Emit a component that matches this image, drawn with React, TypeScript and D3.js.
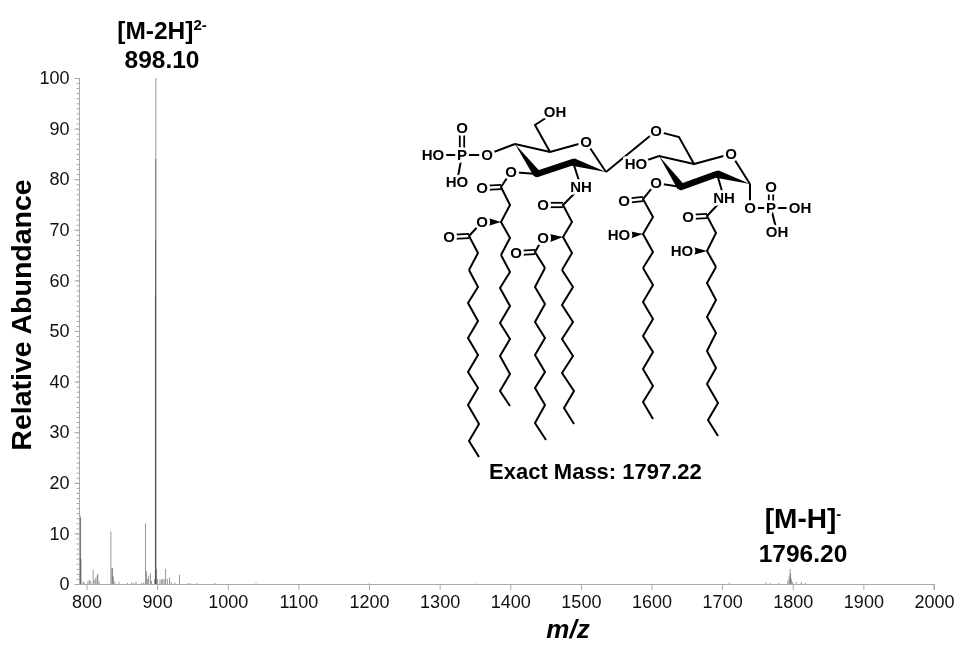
// MS spectrum with lipid A style structure drawn over the empty part of the plot
import { useEffect, useRef } from "react";
import * as d3 from "d3";

type Pt = [number, number];

const WIDTH = 963;
const HEIGHT = 646;
const FONT = "'Liberation Sans', Arial, sans-serif";

// spectrum
const peakMz = [
  791.2, 791.6, 792.2, 795, 797, 802, 804, 806, 809.5, 811, 813, 815, 816, 818,
  834.5, 836, 837, 838, 840, 846, 858, 864, 867, 870, 878, 881,
  883.5, 885, 886.5, 888, 890.5, 892, 896.5,
  897.6, 897.8, 898, 898.2, 899.2, 900.5, 904, 906, 908, 910, 912, 914.5, 917.5, 920, 925, 931.7,
  944, 947, 956, 982, 1040, 1200, 1350, 1710, 1762, 1768, 1780,
  1793, 1795, 1796.2, 1797, 1798, 1800, 1805, 1812, 1818,
];
const peakIntensity = [
  13.5, 13, 5, 0.5, 0.3, 0.5, 0.8, 0.6, 2.8, 0.8, 1.2, 1.7, 2, 0.5,
  10.4, 3.2, 3.1, 1.5, 0.5, 0.4, 0.2, 0.3, 0.2, 0.4, 0.2, 0.3,
  12, 2.5, 1, 1.6, 2.1, 0.6, 1,
  57, 68, 84, 100, 3, 1, 0.9, 0.9, 1, 1, 3, 1, 1.3, 0.4, 0.3, 1.8,
  0.2, 0.15, 0.2, 0.2, 0.15, 0.1, 0.1, 0.25, 0.3, 0.2, 0.2,
  0.8, 1.5, 3, 2, 1, 0.4, 0.4, 0.4, 0.2,
];

const xTicks = d3.range(800, 2001, 100);
const yTicks = d3.range(0, 101, 10);
const yMinorTicks = d3.range(0, 101, 1);

// skeleton of the structure, in page pixels
const plainBonds: Pt[][] = [
  // left sugar
  [[515, 144], [550, 152], [586, 142], [606, 172]],
  [[515, 144], [486, 155], [434, 155]],
  [[462, 155], [457, 182]],
  [[550, 152], [535, 125], [555, 112]],
  [[537, 174], [511, 172], [501, 187], [510, 205], [501, 222], [510, 238], [501, 255]],
  [[573, 162], [581, 187], [563, 205], [572, 222], [563, 237], [572, 253], [562, 270]],
  [[606, 172], [656, 131], [679, 137], [694, 164], [731, 154], [750, 184]],
  // right sugar
  [[694, 164], [659, 156], [636, 164]],
  [[681, 187], [656, 183], [643, 199], [653, 217], [643, 234], [653, 252], [643, 268]],
  [[717, 174], [724, 198], [707, 216], [716, 233], [707, 251], [716, 267]],
  [[750, 184], [750, 208], [800, 208]],
  [[771, 208], [777, 232]],
  // 3-acyloxy branches
  [[482, 222], [469, 236], [478, 253], [469, 270]],
  [[543, 238], [535, 252], [545, 268]],
];

const carbonyls: [Pt, Pt][] = [
  [[462, 155], [462, 128]],
  [[501, 187], [482, 188]],
  [[469, 236], [449, 237]],
  [[563, 205], [543, 205]],
  [[535, 252], [516, 253]],
  [[643, 199], [624, 201]],
  [[707, 216], [688, 217]],
  [[771, 208], [771, 187]],
];

const tails: Pt[][] = [
  [[469, 270], [478, 287], [468, 303], [478, 321], [468, 338], [478, 355], [468, 372], [478, 388], [468, 405], [479, 424], [469, 441], [479, 457]],
  [[501, 255], [510, 272], [500, 288], [510, 306], [500, 323], [510, 339], [500, 356], [510, 374], [500, 391], [510, 406]],
  [[545, 268], [535, 287], [545, 304], [535, 322], [545, 338], [535, 355], [545, 372], [535, 388], [545, 405], [535, 423], [546, 440]],
  [[562, 270], [573, 287], [562, 305], [573, 322], [562, 339], [573, 356], [562, 373], [574, 391], [564, 408], [574, 424]],
  [[643, 268], [653, 285], [643, 302], [653, 319], [643, 336], [653, 352], [643, 369], [653, 386], [643, 402], [653, 419]],
  [[716, 267], [707, 283], [716, 300], [707, 317], [716, 333], [707, 351], [716, 368], [707, 384], [718, 403], [708, 420], [718, 436]],
];

// [narrow end, wide end, wide-end width]
const wedges: [Pt, Pt, number][] = [
  [[515, 144], [537, 174], 8],
  [[606, 172], [573, 162], 8],
  [[501, 222], [488, 222], 8],
  [[563, 237], [550, 238], 8],
  [[659, 156], [681, 187], 8],
  [[750, 184], [717, 174], 8],
  [[643, 234], [629, 235], 8],
  [[707, 251], [693, 251], 8],
];

const thickBonds: [Pt, Pt][] = [
  [[537, 174], [573, 162]],
  [[681, 187], [717, 174]],
];

const atomLabels: [string, number, number][] = [
  ["OH", 555, 112], ["O", 586, 142], ["O", 487, 155], ["P", 462, 155], ["HO", 433, 155],
  ["O", 462, 128], ["HO", 457, 182], ["O", 511, 172], ["O", 482, 188], ["O", 482, 222],
  ["O", 449, 237], ["NH", 581, 187], ["O", 543, 205], ["O", 543, 238], ["O", 516, 253],
  ["O", 656, 131], ["O", 731, 154], ["HO", 636, 164], ["O", 656, 183], ["O", 624, 201],
  ["HO", 619, 235], ["NH", 724, 198], ["O", 688, 217], ["HO", 682, 251], ["O", 750, 208],
  ["P", 771, 208], ["O", 771, 187], ["OH", 800, 208], ["OH", 777, 232],
];

export default function App() {
  const svgRef = useRef<SVGSVGElement | null>(null);

  useEffect(() => {
    const svg = d3.select(svgRef.current);
    svg.selectAll("*").remove();
    svg.attr("font-family", FONT);

    const x = d3.scaleLinear().domain([800, 2000]).range([86.5, 934]);
    const y = d3.scaleLinear().domain([0, 100]).range([584, 78]);
    const axisColor = "#a8a8a8";

    // Peaks, overlaid so the stack gets darker toward the base like the original
    svg.append("g")
      .selectAll("line")
      .data(peakMz)
      .join("line")
      .attr("x1", d => x(d))
      .attr("x2", d => x(d))
      .attr("y1", y(0))
      .attr("y2", (_, i) => y(peakIntensity[i]))
      .attr("stroke", "#444")
      .attr("stroke-opacity", 0.55)
      .attr("stroke-width", 1);

    // Axes
    const xAxis = svg.append("g")
      .attr("transform", `translate(0,${y(0)})`)
      .call(d3.axisBottom(x).tickValues(xTicks).tickSize(6).tickPadding(5).tickFormat(d3.format("d")));
    xAxis.select(".domain").attr("d", `M79.5,0.5H${x(2000)}V6`);

    const yMinor = svg.append("g")
      .attr("transform", "translate(79.5,0)")
      .call(d3.axisLeft(y).tickValues(yMinorTicks).tickSize(3).tickFormat(() => ""));
    yMinor.select(".domain").remove();

    const yAxis = svg.append("g")
      .attr("transform", "translate(79.5,0)")
      .call(d3.axisLeft(y).tickValues(yTicks).tickSize(5).tickPadding(5).tickFormat(d3.format("d")));
    yAxis.select(".domain").attr("d", `M0,${y(100)}V${y(0)}`);

    svg.selectAll(".tick line, .domain").attr("stroke", axisColor).attr("fill", "none");
    svg.selectAll(".tick text")
      .attr("font-size", 18)
      .attr("font-family", FONT)
      .attr("fill", "#111");

    // Axis titles
    svg.append("text")
      .attr("transform", "translate(31,315) rotate(-90)")
      .attr("text-anchor", "middle")
      .attr("font-size", 28.5)
      .attr("font-weight", "bold")
      .text("Relative Abundance");
    svg.append("text")
      .attr("x", 568)
      .attr("y", 638)
      .attr("text-anchor", "middle")
      .attr("font-size", 26)
      .attr("font-weight", "bold")
      .attr("font-style", "italic")
      .text("m/z");

    // Peak annotations
    const annotate = (ion: string, charge: string, mass: string, cx: number, yIon: number, yMass: number, ionSize: number) => {
      const t = svg.append("text")
        .attr("x", cx)
        .attr("y", yIon)
        .attr("text-anchor", "middle")
        .attr("font-size", ionSize)
        .attr("font-weight", "bold");
      t.append("tspan").text(ion);
      t.append("tspan").attr("dy", -9).attr("font-size", 15).text(charge);
      svg.append("text")
        .attr("x", cx)
        .attr("y", yMass)
        .attr("text-anchor", "middle")
        .attr("font-size", 24.5)
        .attr("font-weight", "bold")
        .text(mass);
    };
    annotate("[M-2H]", "2-", "898.10", 162, 39, 68, 24.5);
    annotate("[M-H]", "-", "1796.20", 803, 528, 562, 28);

    // Structure
    const mol = svg.append("g").attr("fill", "none").attr("stroke", "#000");
    const path = d3.line<Pt>();

    mol.append("g")
      .attr("stroke-width", 2)
      .attr("stroke-linejoin", "miter")
      .selectAll("path")
      .data([...plainBonds, ...tails])
      .join("path")
      .attr("d", d => path(d));

    // double bonds: two strokes either side of the bond axis
    mol.append("g")
      .attr("stroke-width", 1.8)
      .selectAll("path")
      .data(carbonyls.flatMap(([a, b]): Pt[][] => {
        const off = a[0] === b[0] ? [-2.2, 0] : [0, -2.2];
        return [
          [[a[0] + off[0], a[1] + off[1]], [b[0] + off[0], b[1] + off[1]]],
          [[a[0] - off[0], a[1] - off[1]], [b[0] - off[0], b[1] - off[1]]],
        ];
      }))
      .join("path")
      .attr("d", d => path(d));

    mol.append("g")
      .attr("stroke-width", 6.5)
      .attr("stroke-linecap", "round")
      .selectAll("path")
      .data(thickBonds)
      .join("path")
      .attr("d", d => path(d));

    mol.append("g")
      .attr("fill", "#000")
      .attr("stroke", "none")
      .selectAll("path")
      .data(wedges)
      .join("path")
      .attr("d", ([a, b, w]) => {
        const dx = b[0] - a[0];
        const dy = b[1] - a[1];
        const len = Math.hypot(dx, dy);
        const nx = (-dy / len) * (w / 2);
        const ny = (dx / len) * (w / 2);
        return `M${a[0]},${a[1]}L${b[0] + nx},${b[1] + ny}L${b[0] - nx},${b[1] - ny}Z`;
      });

    // Atom labels with a white halo, which also trims the bonds behind them
    svg.append("g")
      .selectAll("text")
      .data(atomLabels)
      .join("text")
      .attr("x", d => d[1])
      .attr("y", d => d[2])
      .attr("dy", "0.36em")
      .attr("text-anchor", "middle")
      .attr("font-size", 15)
      .attr("font-weight", "bold")
      .attr("stroke", "#fff")
      .attr("stroke-width", 5.5)
      .attr("stroke-linejoin", "round")
      .attr("paint-order", "stroke")
      .text(d => d[0]);

    svg.append("text")
      .attr("x", 489)
      .attr("y", 479)
      .attr("font-size", 22)
      .attr("font-weight", "bold")
      .text("Exact Mass: 1797.22");
  }, []);

  return (
    <svg
      ref={svgRef}
      width={WIDTH}
      height={HEIGHT}
      viewBox={`0 0 ${WIDTH} ${HEIGHT}`}
      style={{ position: "absolute", left: 0, top: 0, background: "#fff", filter: "blur(0.35px)" }}
    />
  );
}
